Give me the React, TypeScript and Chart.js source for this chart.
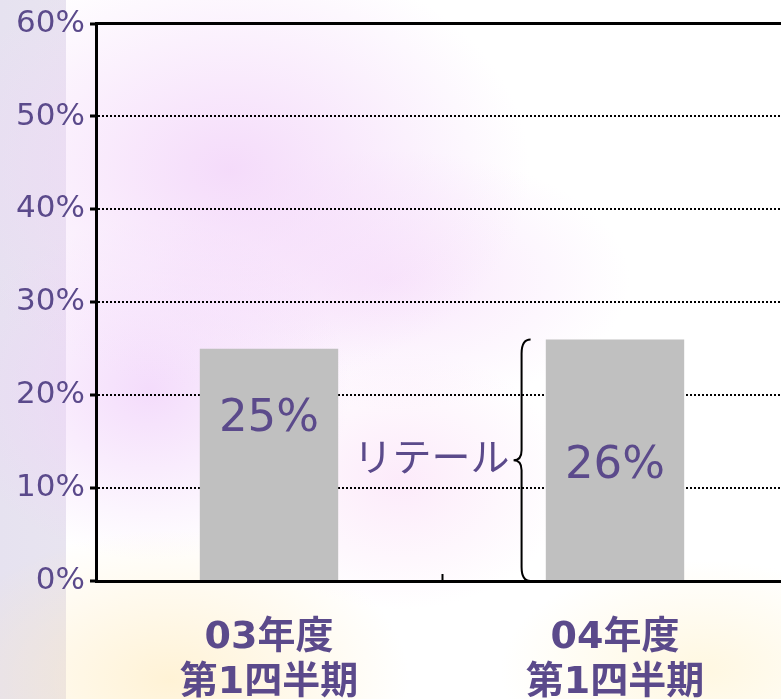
import React, { useEffect, useRef } from "react";
import { Chart, registerables } from "chart.js";

Chart.register(...registerables);

const categories: string[][] = [["03年度", "第1四半期"], ["04年度", "第1四半期"]];
const shares: number[] = [25, 26];
const shareLabelLevels: number[] = [17.4, 12.3];
const yTicks: number[] = [0, 10, 20, 30, 40, 50, 60];
const braceLabel = "リテール";
const braceLabelLevel = 13.4;
const braceIndexPos = 0.73;
const braceLabelIndexPos = 0.695;

const TEXT = "#5B4A8B";

const annotationPlugin = {
  id: "annotations",
  afterDatasetsDraw(chart: any) {
    const { ctx } = chart;
    const xs = chart.scales.x;
    const ys = chart.scales.y;
    const meta = chart.getDatasetMeta(0);
    ctx.save();
    ctx.fillStyle = TEXT;
    ctx.textAlign = "center";
    ctx.textBaseline = "middle";
    ctx.font = "45px 'DejaVu Sans'";
    meta.data.forEach((bar: any, i: number) => {
      ctx.fillText(`${shares[i]}%`, bar.x, ys.getPixelForValue(shareLabelLevels[i]));
    });
    // brace label
    ctx.font = "39px 'Noto Sans CJK JP'";
    ctx.textAlign = "right";
    ctx.fillText(braceLabel, xs.getPixelForValue(braceLabelIndexPos), ys.getPixelForValue(braceLabelLevel));
    // brace
    const x0 = xs.getPixelForValue(braceIndexPos);
    const yTop = ys.getPixelForValue(shares[1]);
    const yBot = ys.getPixelForValue(0);
    const ym = (yTop + yBot) / 2;
    ctx.strokeStyle = "#000";
    ctx.lineWidth = 2;
    ctx.beginPath();
    ctx.moveTo(x0 + 9, yTop);
    ctx.quadraticCurveTo(x0, yTop, x0, yTop + 14);
    ctx.lineTo(x0, ym - 10);
    ctx.quadraticCurveTo(x0, ym, x0 - 8, ym);
    ctx.quadraticCurveTo(x0, ym, x0, ym + 10);
    ctx.lineTo(x0, yBot - 14);
    ctx.quadraticCurveTo(x0, yBot, x0 + 9, yBot);
    ctx.stroke();
    ctx.restore();
  },
};

export default function App() {
  const ref = useRef<HTMLCanvasElement | null>(null);
  useEffect(() => {
    if (!ref.current) return;
    const chart = new Chart(ref.current, {
      type: "bar",
      data: {
        labels: categories as any,
        datasets: [
          {
            data: shares,
            backgroundColor: "#C0C0C0",
            borderWidth: 0,
            categoryPercentage: 0.4,
            barPercentage: 1.0,
          },
        ],
      },
      options: {
        animation: false,
        responsive: false,
        layout: { padding: { top: 21, right: 12, left: 0, bottom: 0 } },
        plugins: { legend: { display: false }, tooltip: { enabled: false } },
        scales: {
          x: {
            position: "bottom",
            grid: {
              display: true,
              drawOnChartArea: false,
              drawTicks: true,
              offset: true,
              tickLength: -7,
              tickWidth: 2,
              tickColor: "#000",
              color: "#000",
            },
            border: { display: true, color: "#000", width: 3 },
            ticks: {
              color: TEXT,
              padding: 41,
              maxRotation: 0,
              autoSkip: false,
              font: { family: "'DejaVu Sans', 'Noto Sans CJK JP'", size: 38, weight: "bold", lineHeight: 1.2 },
            },
            afterFit: (s: any) => {
              s.height = 118;
            },
          },
          x2: {
            type: "category",
            position: "top",
            labels: ["", ""],
            grid: { display: false },
            border: { display: true, color: "#000", width: 3 },
            ticks: { display: false },
            afterFit: (s: any) => {
              s.height = 0;
            },
          },
          y: {
            min: 0,
            max: 60,
            afterBuildTicks: (s: any) => {
              s.ticks = yTicks.map((v) => ({ value: v }));
            },
            grid: {
              color: "#000",
              lineWidth: 2,
              drawTicks: true,
              tickLength: 6,
              tickWidth: 3,
              tickColor: "#000",
              tickBorderDash: [],
            },
            border: { display: true, color: "#000", width: 3, dash: [2, 2] },
            ticks: {
              color: TEXT,
              padding: 5,
              font: { family: "'DejaVu Sans'", size: 31 },
              callback: (v: any) => `${v}%`,
            },
            afterFit: (s: any) => {
              s.width = 96;
            },
          },
        },
      } as any,
      plugins: [annotationPlugin],
    });
    return () => chart.destroy();
  }, []);

  const bg = [
    "radial-gradient(ellipse 240px 150px at 170px 680px, rgba(255,232,180,0.55), rgba(255,232,180,0) 100%)",
    "radial-gradient(ellipse 200px 110px at 700px 670px, rgba(255,240,195,0.5), rgba(255,240,195,0) 100%)",
    "radial-gradient(ellipse 300px 220px at 230px 170px, rgba(242,210,249,0.8), rgba(242,210,249,0) 100%)",
    "radial-gradient(ellipse 200px 170px at 150px 390px, rgba(240,208,250,0.75), rgba(240,208,250,0) 100%)",
    "radial-gradient(ellipse 240px 130px at 390px 280px, rgba(246,218,250,0.65), rgba(246,218,250,0) 100%)",
    "radial-gradient(ellipse 170px 130px at 400px 480px, rgba(250,218,246,0.55), rgba(250,218,246,0) 100%)",
    "linear-gradient(to right, rgba(230,226,240,1) 0px, rgba(232,228,240,1) 66px, rgba(255,255,255,0) 66px)",
    "#ffffff",
  ].join(", ");

  return (
    <div
      style={{
        position: "absolute",
        left: 0,
        top: 0,
        width: 781,
        height: 699,
        overflow: "hidden",
        background: bg,
      }}
    >
      <canvas ref={ref} width={800} height={699} style={{ display: "block" }} />
    </div>
  );
}
